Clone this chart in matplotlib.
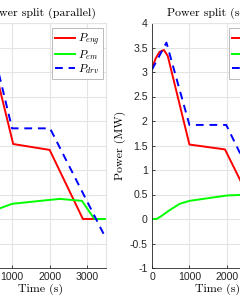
import matplotlib
matplotlib.use("Agg")
import matplotlib.pyplot as plt

plt.rcParams['mathtext.fontset'] = 'cm'
plt.rcParams['font.family'] = ['Liberation Sans', 'DejaVu Sans']

# parallel layout (left panel), time in s, power in MW
t_eng_par = [0, 200, 420, 1030, 2000, 2885, 3500]
p_eng_par = [3.05, 3.35, 3.45, 1.53, 1.41, 0.0, 0.0]
t_em_par = [0, 120, 400, 680, 1000, 2000, 2280, 2860, 3190, 3500]
p_em_par = [0.0, 0.0, 0.1, 0.22, 0.31, 0.39, 0.41, 0.37, 0.0, 0.0]
t_drv_par = [0, 450, 1000, 2010, 3500]
p_drv_par = [3.05, 3.6, 1.85, 1.85, -0.4]

# series layout (right panel)
t_eng_ser = [0, 100, 200, 316, 420, 1000, 1950, 2870, 3500]
p_eng_ser = [3.08, 3.28, 3.41, 3.45, 3.33, 1.52, 1.42, 0.0, 0.0]
t_em_ser = [0, 120, 250, 470, 740, 1000, 2000, 2320, 2800]
p_em_ser = [0.0, 0.0, 0.06, 0.18, 0.31, 0.37, 0.48, 0.49, 0.5]
t_drv_ser = [0, 386, 1000, 1983, 3500]
p_drv_ser = [3.05, 3.6, 1.92, 1.92, -0.45]

titles = ['Power split (parallel)', 'Power split (series)']
labels = ['$P_{eng}$', '$P_{em}$', '$P_{drv}$']
y_ticks = [-1, -0.5, 0, 0.5, 1, 1.5, 2, 2.5, 3, 3.5, 4]
y_ticklabels = ['-1', '-0.5', '0', '0.5', '1', '1.5', '2', '2.5', '3', '3.5', '4']
x_ticks = [0, 1000, 2000, 3000]

dark = (0.15, 0.15, 0.15)
light = '#e4e4e4'

fig = plt.figure(figsize=(2.4, 3.01), dpi=100)
ax1 = fig.add_axes([-25.5 / 240, 33 / 301, 131.5 / 240, 245 / 301])
ax2 = fig.add_axes([152 / 240, 33 / 301, 131 / 240, 245 / 301])

data = [
    (t_eng_par, p_eng_par, t_em_par, p_em_par, t_drv_par, p_drv_par),
    (t_eng_ser, p_eng_ser, t_em_ser, p_em_ser, t_drv_ser, p_drv_ser),
]

for ax, d, title in zip([ax1, ax2], data, titles):
    ax.plot(d[0], d[1], color='#ff0000', lw=1.4, label=labels[0])
    ax.plot(d[2], d[3], color='#00ff00', lw=1.4, label=labels[1])
    ax.plot(d[4], d[5], color='#0000ff', lw=1.4, ls=(0, (4, 3)), label=labels[2])
    ax.set_xlim(0, 3500)
    ax.set_ylim(-1, 4)
    ax.set_xticks(x_ticks)
    ax.set_xticklabels([str(x) for x in x_ticks])
    ax.set_yticks(y_ticks)
    ax.set_yticklabels(y_ticklabels)
    ax.grid(True, color=light, lw=0.8)
    ax.set_axisbelow(True)
    ax.tick_params(direction='in', length=2, width=0.6, colors=dark,
                   labelsize=7.6, pad=3)
    for s in ['left', 'bottom']:
        ax.spines[s].set_color(dark)
        ax.spines[s].set_linewidth(0.6)
    for s in ['top', 'right']:
        ax.spines[s].set_color(light)
        ax.spines[s].set_linewidth(0.8)
    ax.set_title(title, fontfamily='cmr10', fontsize=8.6, pad=5)
    ax.set_xlabel('Time (s)', fontfamily='cmr10', fontsize=8.6, labelpad=1)
    ax.set_ylabel('Power (MW)', fontfamily='cmr10', fontsize=8.6)
    ax.yaxis.set_label_coords(-0.195, 0.5)
    leg = ax.legend(loc='upper right', bbox_to_anchor=(0.975, 0.978),
                    borderaxespad=0, fontsize=8.3, handlelength=1.75,
                    handletextpad=0.25, labelspacing=0.0, borderpad=0.25,
                    fancybox=False, framealpha=1)
    leg.get_frame().set_edgecolor('#b0b0b0')
    leg.get_frame().set_linewidth(0.6)

fig.savefig('out.png', dpi=100)
